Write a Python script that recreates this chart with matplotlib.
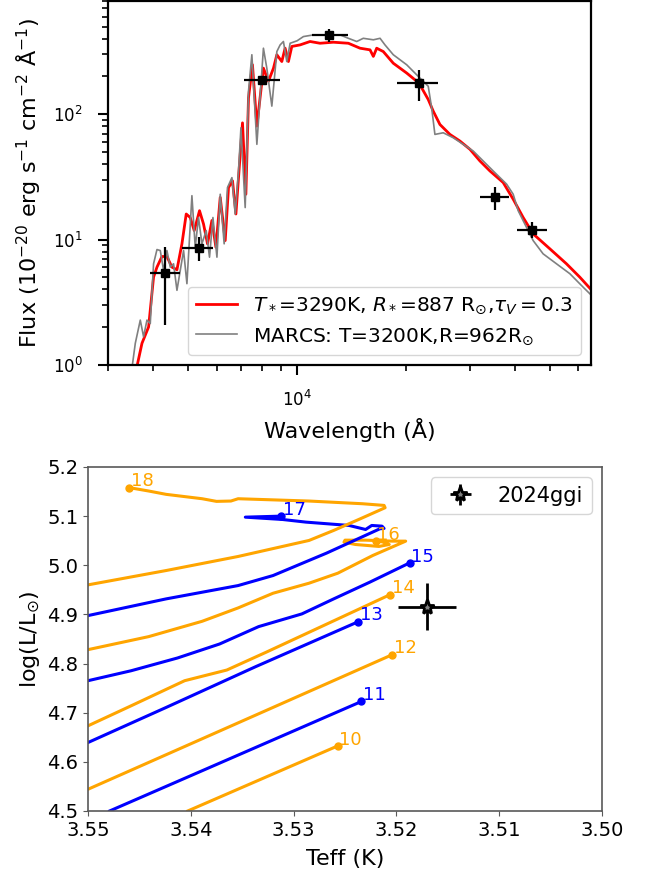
import matplotlib
matplotlib.use('Agg')
import matplotlib.pyplot as plt

# --- SED panel data ---
red_wave = [3600, 3724, 3884, 4009, 4097, 4229, 4365, 4507, 4653, 4803, 4936, 5063, 5194,
            5372, 5511, 5653, 5813, 5963, 6129, 6327, 6461, 6628, 6773, 6929, 7063, 7217,
            7338, 7526, 7740, 8070, 8332, 8604, 8790, 9073, 9265, 9462, 9669, 10190, 10860,
            11570, 12600, 13860, 14930, 15910, 16250, 16600, 17310, 18450, 20090, 21730,
            23050, 23800, 24830, 26460, 28200, 30060, 32030, 34130, 37150, 39590, 42190,
            44960, 50010, 55590, 60500, 65300]
red_flux = [0.95, 1.49, 2.01, 5.02, 6.03, 7.33, 7.33, 6.03, 5.75, 9.25, 16.0, 15.0, 11.8,
            17.0, 13.3, 9.25, 14.2, 8.69, 21.7, 9.82, 26.0, 29.4, 16.0, 39.9, 85.3, 23.0,
            134.7, 248, 80.3, 233, 183, 233, 298, 263, 336, 263, 347, 357, 380,
            368, 375, 368, 336, 326, 289, 336, 316, 255, 213, 177,
            131, 105.6, 82.8, 69.0, 61.1, 52.5, 42.4, 35.3, 28.5, 21.0, 15.0,
            11.1, 8.44, 6.41, 5.02, 3.94]

marcs_wave = [3495, 3569, 3684, 3762, 3844, 3926, 4009, 4097, 4184, 4273, 4365, 4459, 4553,
              4653, 4752, 4853, 4958, 5118, 5227, 5338, 5455, 5606, 5725, 5851, 6002, 6129,
              6285, 6419, 6603, 6743, 6887, 6993, 7185, 7338, 7497, 7740, 8070, 8246, 8514,
              8790, 8976, 9166, 9365, 9565, 10000, 10410, 11090, 12080, 13150, 13860, 14620,
              15240, 16250, 16960, 17500, 18450, 20090, 21870, 23050, 23560, 24050, 25360,
              27030, 28800, 30690, 32700, 34850, 37960, 39590, 40870, 43110, 44960, 47900,
              52170, 56770, 61780, 65180]
marcs_flux = [0.95, 1.49, 2.28, 1.68, 2.28, 2.14, 6.41, 8.33, 8.18, 5.68, 8.18, 6.03, 6.41,
              3.94, 5.68, 8.18, 4.45, 22.4, 8.69, 15.0, 9.25, 11.8, 7.24, 15.0, 7.24, 23.0,
              9.25, 26.0, 31.2, 16.0, 35.3, 77.9, 18.0, 152, 298, 57.5, 336, 233, 116,
              316, 357, 380, 263, 368, 385, 416, 429, 429, 429, 403, 380,
              403, 392, 403, 357, 298, 248, 194, 167, 112, 69.0, 71.1,
              64.9, 57.5, 50.9, 42.4, 35.3, 27.7, 23.0, 17.0, 12.5, 9.82, 7.70,
              6.41, 5.35, 4.18, 3.59]

phot_wave = [4318, 5360, 8020, 12280, 21700, 35200, 44500]
phot_wave_lo = [392, 560, 910, 1250, 2850, 3200, 4000]
phot_wave_hi = [432, 510, 950, 1580, 2860, 3400, 4500]
phot_flux = [5.37, 8.59, 186, 429, 177, 21.7, 12.0]
phot_ferr = [3.3, 1.9, 8, 52, 50, 4.4, 1.7]

# --- HR diagram data: log Teff / log L tracks ---
t10 = [3.5403, 3.5257]
l10 = [4.5, 4.6325]
t11 = [3.5479, 3.5234]
l11 = [4.5, 4.7229]
t12 = [3.55, 3.5204]
l12 = [4.5442, 4.8181]
t13 = [3.55, 3.5424, 3.5337, 3.5237]
l13 = [4.6393, 4.7107, 4.7936, 4.8853]
t14 = [3.55, 3.5458, 3.5406, 3.5365, 3.5327, 3.5285, 3.5206]
l14 = [4.6733, 4.7141, 4.7651, 4.7868, 4.8228, 4.8636, 4.9404]
t15 = [3.55, 3.5458, 3.5413, 3.5372, 3.5334, 3.5292, 3.5261, 3.5226, 3.5187]
l15 = [4.7651, 4.7854, 4.8113, 4.8398, 4.8752, 4.9010, 4.9316, 4.9655, 5.0050]
t16 = [3.55, 3.5441, 3.5389, 3.5354, 3.5320, 3.5285, 3.5257, 3.5223, 3.5191,
       3.5204, 3.5230, 3.5250, 3.5251, 3.5240, 3.5217, 3.5207, 3.5214, 3.5220]
l16 = [4.8283, 4.8548, 4.8860, 4.9132, 4.9431, 4.9635, 4.9839, 5.0199, 5.0491,
       5.0491, 5.0511, 5.0511, 5.0471, 5.0423, 5.0383, 5.0423, 5.0477, 5.0491]
t17 = [3.55, 3.5424, 3.5354, 3.5320, 3.5289, 3.5268, 3.5216, 3.5212, 3.5214, 3.5224,
       3.5230, 3.5246, 3.5288, 3.5311, 3.5347, 3.5312]
l17 = [4.8976, 4.9316, 4.9587, 4.9791, 5.0063, 5.0247, 5.0743, 5.0749, 5.0796, 5.0810,
       5.0728, 5.0810, 5.0878, 5.0932, 5.0979, 5.1000]
t18 = [3.55, 3.5424, 3.5354, 3.5285, 3.5261, 3.5235, 3.5211, 3.5212, 3.5233, 3.5285,
       3.5354, 3.5361, 3.5375, 3.5389, 3.5424, 3.5441, 3.5460]
l18 = [4.9601, 4.9893, 5.0179, 5.0505, 5.0709, 5.0947, 5.1171, 5.1218, 5.1252, 5.1307,
       5.1354, 5.1307, 5.1300, 5.1354, 5.1443, 5.1511, 5.1580]

masses = [10, 11, 12, 13, 14, 15, 16, 17, 18]
track_teff = [t10, t11, t12, t13, t14, t15, t16, t17, t18]
track_lum = [l10, l11, l12, l13, l14, l15, l16, l17, l18]

sn_teff, sn_teff_err = 3.5170, 0.0028
sn_lum, sn_lum_err = 4.9157, 0.048

fig = plt.figure(figsize=(6.5, 8.74), dpi=100)

# ---------------- top panel: SED ----------------
ax1 = fig.add_axes([0.1662, 0.5824, 0.7431, 0.4165])
ax1.plot(red_wave, red_flux, color='red', lw=2,
         label=r'$T_*$=3290K, $R_*$=887 R$_{\odot}$,$\tau_V=0.3$')
ax1.plot(marcs_wave, marcs_flux, color='grey', lw=1.2,
         label=r'MARCS: T=3200K,R=962R$_{\odot}$')
ax1.errorbar(phot_wave, phot_flux, xerr=[phot_wave_lo, phot_wave_hi], yerr=phot_ferr,
             fmt='s', color='k', ms=6, elinewidth=1.6, capsize=0, zorder=5)
ax1.set_xscale('log')
ax1.set_yscale('log')
ax1.set_xlim(3000, 65000)
ax1.set_ylim(1, 800)
ax1.set_xlabel('Wavelength (Å)', fontsize=16, labelpad=6)
ax1.set_ylabel(r'Flux (10$^{-20}$ erg s$^{-1}$ cm$^{-2}$ Å$^{-1}$)', fontsize=16, labelpad=7)
ax1.tick_params(which='major', length=7, width=1.5, labelsize=12, pad=11)
ax1.tick_params(which='minor', length=4, width=1.2)
for s in ax1.spines.values():
    s.set_linewidth(1.6)
ax1.legend(loc='lower right', fontsize=14.5)

# ---------------- bottom panel: HRD ----------------
ax2 = fig.add_axes([0.1354, 0.0721, 0.7908, 0.3936])
for m, tt, ll in zip(masses, track_teff, track_lum):
    c = 'orange' if m % 2 == 0 else 'blue'
    ax2.plot(tt, ll, color=c, lw=2.2)
    ax2.plot(tt[-1], ll[-1], 'o', color=c, ms=5)
    ax2.annotate(str(m), (tt[-1], ll[-1]), xytext=(1, -2), textcoords='offset points',
                 color=c, fontsize=13, ha='left', va='bottom')
ax2.errorbar(sn_teff, sn_lum, xerr=sn_teff_err, yerr=sn_lum_err, fmt='*', color='k',
             mfc='grey', mec='k', mew=2, ms=11, elinewidth=2, label='2024ggi')
ax2.set_xlim(3.55, 3.50)
ax2.set_ylim(4.5, 5.2)
ax2.set_xlabel('Teff (K)', fontsize=16, labelpad=7)
ax2.set_ylabel(r'log(L/L$_{\odot}$)', fontsize=16)
ax2.tick_params(labelsize=14, color='0.35')
for s in ax2.spines.values():
    s.set_color('0.35')
    s.set_linewidth(1.2)
ax2.legend(loc='upper right', fontsize=15)

fig.savefig('out.png', dpi=100)
